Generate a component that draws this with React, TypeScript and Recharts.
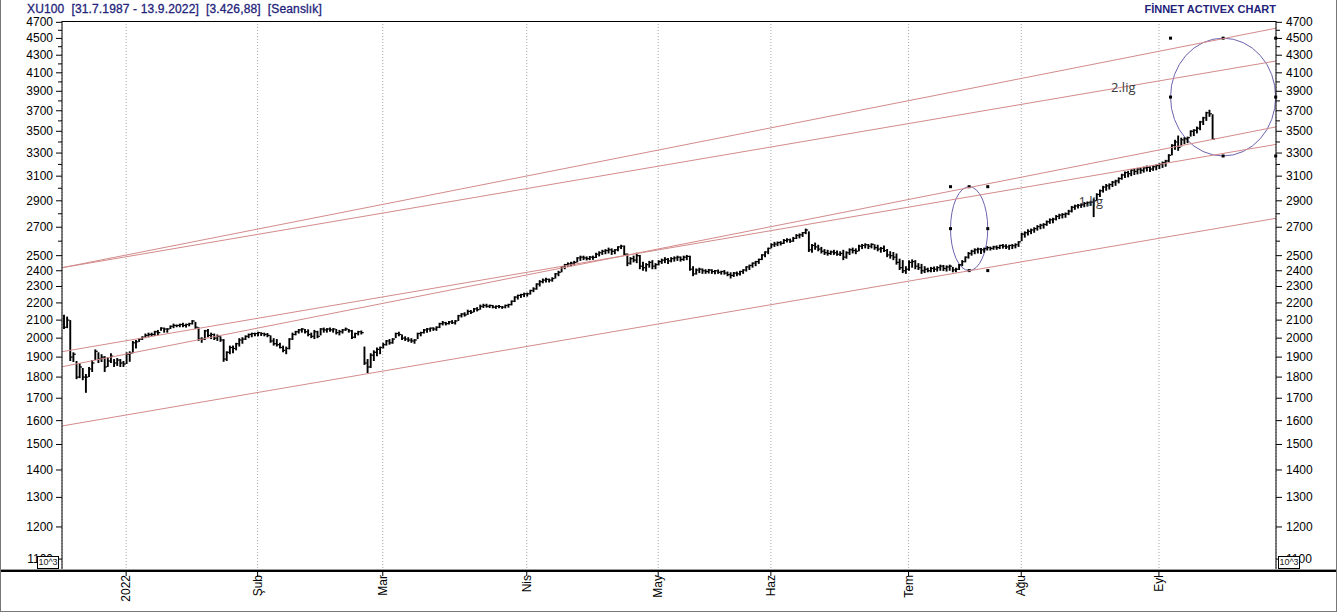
import React from "react";
import {
  ComposedChart,
  Bar,
  XAxis,
  YAxis,
  CartesianGrid,
  ReferenceLine,
  ReferenceArea,
  ReferenceDot,
} from "recharts";

// session bars as [high, low, close], two sessions per trading day
const dec21 = [
  [2130, 2050, 2060], [2120, 2055, 2100], [2100, 1880, 1900], [1925, 1875, 1915],
  [1880, 1790, 1800], [1870, 1795, 1850], [1845, 1785, 1800], [1815, 1725, 1800],
  [1850, 1800, 1840], [1885, 1825, 1870], [1940, 1885, 1930], [1925, 1870, 1890],
  [1915, 1875, 1900], [1905, 1825, 1850], [1900, 1850, 1880], [1920, 1870, 1905],
  [1890, 1850, 1870], [1895, 1855, 1885], [1890, 1850, 1870], [1880, 1850, 1865],
];
const jan22 = [
  [1925, 1865, 1915], [1930, 1876, 1920], [1985, 1920, 1975], [1990, 1945, 1980],
  [2000, 1980, 1995], [2010, 1990, 2005], [2025, 2000, 2015], [2030, 2005, 2020],
  [2030, 2010, 2020], [2040, 2012, 2035], [2045, 2015, 2030], [2060, 2040, 2055],
  [2058, 2030, 2050], [2055, 2030, 2050], [2070, 2050, 2065], [2080, 2055, 2070],
  [2075, 2060, 2070], [2080, 2060, 2075], [2085, 2060, 2070], [2080, 2058, 2075],
  [2085, 2065, 2080], [2100, 2075, 2095], [2090, 2050, 2060], [2060, 1985, 1995],
  [2005, 1975, 1995], [2045, 1990, 2040], [2050, 2005, 2015], [2030, 1995, 2020],
  [2025, 1990, 2000], [2020, 1985, 2010], [2010, 1980, 1990], [1995, 1876, 1890],
  [1930, 1880, 1925], [1960, 1915, 1950], [1960, 1920, 1945], [1975, 1935, 1970],
  [2000, 1955, 1990], [2005, 1970, 1995], [2015, 1990, 2010], [2025, 2000, 2020],
  [2030, 2005, 2025], [2030, 2010, 2025],
];
const feb22 = [
  [2035, 2010, 2030], [2032, 2012, 2025], [2030, 2010, 2020], [2028, 2005, 2015],
  [2015, 1975, 1985], [2000, 1960, 1970], [1995, 1955, 1965], [1975, 1945, 1950],
  [1960, 1925, 1935], [1955, 1915, 1945], [2000, 1940, 1995], [2030, 1990, 2020],
  [2040, 2015, 2035], [2050, 2025, 2045], [2055, 2030, 2050], [2050, 2025, 2035],
  [2048, 2010, 2020], [2030, 2000, 2010], [2045, 1995, 2035], [2040, 2000, 2010],
  [2055, 2015, 2050], [2058, 2030, 2045], [2055, 2030, 2050], [2058, 2035, 2045],
  [2055, 2030, 2050], [2050, 2020, 2030], [2045, 2015, 2035], [2050, 2025, 2045],
  [2058, 2040, 2050], [2050, 2030, 2040], [2045, 1995, 2005], [2030, 2000, 2025],
  [2040, 2015, 2035], [2042, 2020, 2030], [1955, 1860, 1870], [1890, 1820, 1850],
  [1920, 1845, 1910], [1935, 1880, 1925], [1950, 1905, 1940], [1955, 1915, 1950],
];
const mar22 = [
  [1975, 1945, 1965], [1990, 1960, 1985], [1995, 1965, 1975], [2000, 1970, 1995],
  [2030, 2000, 2025], [2035, 2010, 2020], [2020, 1990, 2000], [2010, 1985, 1995],
  [2005, 1980, 1990], [2000, 1975, 1985], [1995, 1970, 1990], [2030, 1995, 2025],
  [2035, 2010, 2030], [2050, 2025, 2045], [2055, 2030, 2050], [2058, 2035, 2055],
  [2060, 2040, 2050], [2065, 2040, 2060], [2085, 2055, 2080], [2095, 2070, 2085],
  [2090, 2070, 2080], [2095, 2075, 2090], [2100, 2078, 2085], [2100, 2075, 2095],
  [2130, 2095, 2125], [2140, 2115, 2135], [2145, 2120, 2130], [2160, 2130, 2150],
  [2158, 2135, 2145], [2170, 2145, 2165], [2175, 2150, 2160], [2190, 2160, 2180],
  [2195, 2170, 2185], [2195, 2172, 2180], [2190, 2170, 2185], [2188, 2168, 2175],
  [2185, 2165, 2180], [2188, 2168, 2178], [2182, 2165, 2175], [2190, 2168, 2185],
  [2195, 2172, 2190], [2215, 2185, 2210], [2240, 2205, 2235], [2250, 2220, 2245],
  [2255, 2230, 2250], [2262, 2235, 2255],
];
const apr22 = [
  [2262, 2238, 2255], [2280, 2250, 2275], [2295, 2265, 2285], [2320, 2280, 2315],
  [2340, 2300, 2330], [2350, 2320, 2340], [2355, 2325, 2345], [2350, 2325, 2340],
  [2358, 2330, 2350], [2385, 2350, 2380], [2400, 2365, 2390], [2430, 2390, 2425],
  [2445, 2410, 2440], [2455, 2425, 2445], [2460, 2430, 2450], [2465, 2435, 2455],
  [2490, 2455, 2485], [2500, 2465, 2490], [2500, 2470, 2485], [2495, 2468, 2480],
  [2498, 2470, 2490], [2500, 2472, 2488], [2520, 2485, 2510], [2530, 2495, 2520],
  [2540, 2505, 2530], [2545, 2510, 2535], [2555, 2515, 2540], [2550, 2505, 2530],
  [2545, 2510, 2540], [2565, 2530, 2560], [2575, 2545, 2565], [2570, 2500, 2510],
  [2515, 2430, 2450], [2490, 2440, 2480], [2500, 2455, 2470], [2520, 2450, 2500],
  [2505, 2410, 2430], [2460, 2400, 2420], [2450, 2395, 2440], [2465, 2420, 2455],
  [2470, 2410, 2430], [2450, 2410, 2440],
];
const may22 = [
  [2470, 2435, 2460], [2480, 2445, 2470], [2490, 2450, 2475], [2485, 2445, 2465],
  [2490, 2455, 2480], [2495, 2460, 2485], [2500, 2465, 2490], [2495, 2460, 2475],
  [2500, 2465, 2490], [2505, 2470, 2495], [2500, 2400, 2410], [2430, 2365, 2380],
  [2415, 2375, 2405], [2420, 2385, 2410], [2415, 2380, 2400], [2410, 2380, 2395],
  [2412, 2382, 2405], [2410, 2380, 2395], [2405, 2378, 2400], [2408, 2380, 2390],
  [2400, 2375, 2395], [2405, 2375, 2385], [2395, 2365, 2375], [2390, 2350, 2370],
  [2392, 2360, 2385], [2395, 2365, 2380], [2400, 2370, 2395], [2410, 2380, 2405],
  [2430, 2395, 2425], [2440, 2405, 2435], [2455, 2420, 2450], [2465, 2430, 2460],
  [2480, 2445, 2475], [2510, 2470, 2505], [2530, 2490, 2525], [2555, 2510, 2550],
];
const jun22 = [
  [2585, 2550, 2575], [2595, 2560, 2580], [2598, 2565, 2590], [2600, 2570, 2585],
  [2615, 2580, 2605], [2620, 2590, 2610], [2618, 2588, 2600], [2630, 2595, 2620],
  [2650, 2615, 2640], [2655, 2620, 2645], [2665, 2630, 2660], [2690, 2650, 2680],
  [2670, 2525, 2540], [2580, 2520, 2570], [2590, 2540, 2560], [2575, 2530, 2545],
  [2560, 2515, 2530], [2545, 2505, 2520], [2540, 2500, 2515], [2535, 2505, 2525],
  [2540, 2505, 2520], [2535, 2500, 2510], [2530, 2498, 2515], [2540, 2470, 2490],
  [2530, 2480, 2520], [2550, 2505, 2540], [2555, 2515, 2535], [2550, 2510, 2530],
  [2575, 2530, 2565], [2580, 2545, 2570], [2585, 2550, 2575], [2580, 2545, 2565],
  [2585, 2550, 2578], [2578, 2540, 2555], [2575, 2530, 2545], [2560, 2520, 2550],
  [2570, 2525, 2535], [2545, 2490, 2505], [2530, 2480, 2500], [2525, 2470, 2490],
  [2515, 2440, 2455], [2480, 2405, 2420], [2470, 2385, 2400], [2430, 2380, 2410],
];
const jul22 = [
  [2470, 2400, 2455], [2475, 2420, 2460], [2470, 2410, 2430], [2450, 2405, 2420],
  [2445, 2380, 2400], [2430, 2385, 2410], [2420, 2390, 2400], [2425, 2390, 2415],
  [2428, 2392, 2410], [2430, 2395, 2420], [2440, 2400, 2430], [2438, 2398, 2415],
  [2435, 2395, 2425], [2440, 2400, 2430], [2425, 2390, 2405], [2420, 2390, 2410],
  [2445, 2405, 2440], [2470, 2430, 2460], [2495, 2455, 2490], [2525, 2480, 2515],
  [2540, 2500, 2530], [2550, 2510, 2540], [2555, 2515, 2545], [2552, 2512, 2540],
  [2555, 2520, 2548], [2565, 2535, 2555], [2562, 2535, 2550], [2568, 2540, 2560],
  [2570, 2540, 2555], [2575, 2545, 2570], [2580, 2548, 2565], [2578, 2545, 2560],
  [2575, 2540, 2570], [2580, 2545, 2568], [2585, 2550, 2575], [2600, 2560, 2595],
];
const aug22 = [
  [2660, 2600, 2650], [2670, 2625, 2660], [2685, 2640, 2670], [2690, 2650, 2680],
  [2700, 2660, 2690], [2715, 2675, 2705], [2725, 2685, 2715], [2730, 2690, 2720],
  [2750, 2710, 2740], [2765, 2725, 2755], [2770, 2730, 2760], [2790, 2750, 2780],
  [2800, 2760, 2790], [2805, 2765, 2795], [2810, 2770, 2800], [2830, 2790, 2820],
  [2860, 2810, 2850], [2870, 2830, 2860], [2875, 2840, 2865], [2880, 2845, 2870],
  [2890, 2850, 2880], [2895, 2855, 2885], [2900, 2860, 2890], [2920, 2775, 2900],
  [2960, 2900, 2950], [2990, 2930, 2980], [3020, 2965, 3010], [3035, 2980, 3020],
  [3040, 2990, 3030], [3060, 3010, 3050], [3070, 3020, 3060], [3090, 3040, 3080],
  [3120, 3070, 3110], [3140, 3085, 3130], [3145, 3090, 3120], [3160, 3100, 3150],
  [3165, 3110, 3140], [3170, 3115, 3160], [3175, 3120, 3150], [3180, 3130, 3170],
  [3190, 3140, 3175], [3185, 3135, 3160], [3195, 3145, 3180], [3200, 3150, 3190],
];
const sep22 = [
  [3210, 3160, 3200], [3225, 3170, 3215], [3240, 3180, 3230], [3290, 3220, 3280],
  [3380, 3280, 3370], [3420, 3330, 3400], [3460, 3320, 3350], [3440, 3360, 3420],
  [3445, 3380, 3430], [3450, 3390, 3440], [3510, 3450, 3500], [3520, 3455, 3510],
  [3545, 3480, 3530], [3600, 3510, 3590], [3640, 3560, 3630], [3690, 3600, 3680],
  [3710, 3640, 3670], [3665, 3427, 3427],
];

const months = [dec21, jan22, feb22, mar22, apr22, may22, jun22, jul22, aug22, sep22];
const monthLabels = ["2022", "Şub", "Mar", "Nis", "May", "Haz", "Tem", "Ağu", "Eyl"];

const yTicks = [
  1100, 1200, 1300, 1400, 1500, 1600, 1700, 1800, 1900, 2000, 2100, 2200, 2300,
  2400, 2500, 2600, 2700, 2800, 2900, 3000, 3100, 3200, 3300, 3400, 3500, 3600,
  3700, 3800, 3900, 4000, 4100, 4200, 4300, 4400, 4500, 4600, 4700,
];
const yLabelled = [
  1100, 1200, 1300, 1400, 1500, 1600, 1700, 1800, 1900, 2000, 2100, 2200, 2300,
  2400, 2500, 2700, 2900, 3100, 3300, 3500, 3700, 3900, 4100, 4300, 4500, 4700,
];

// trend channel lines: value at left edge, value at right edge
const trendStart = [2420, 2420, 1928, 1851, 1577];
const trendEnd = [4626, 4233, 3378, 3542, 2766];

// drawn ellipses (session index range, value range)
const ellipses = [
  { x1: 283.4, x2: 295.3, lo: 2401, hi: 3013 },
  { x1: 353.7, x2: 387.3, lo: 3274, hi: 4503 },
];
const notes = [
  { i: 338.6, v: 3946, text: "2.lig" },
  { i: 328.2, v: 2899, text: "1.lig" },
];

const sessions = months.flat();
const data = sessions.map(([h, l, c], i) => ({ i, range: [l, h], high: h, low: l, close: c }));

const monthStarts: number[] = [];
let acc = 0;
months.forEach((m, k) => {
  if (k > 0) monthStarts.push(acc);
  acc += m.length;
});

const X_MIN = -0.5;
const X_MAX = 387.4;
const Y_MIN = 1071;
const Y_MAX = 4717;
const FONT = "'Liberation Sans', Arial, sans-serif";
const NAVY = "#23237a";

const SessionBar = (props: any) => {
  const { x, y, width, height, payload } = props;
  if (x == null || y == null || !payload) return null;
  const cx = x + width / 2;
  const top = Math.min(y, y + height);
  const bottom = Math.max(y, y + height);
  const span = Math.log(payload.high) - Math.log(payload.low);
  const t = span > 0 ? (Math.log(payload.high) - Math.log(payload.close)) / span : 0;
  const yc = top + (bottom - top) * t;
  return (
    <g>
      <line x1={cx} x2={cx} y1={top} y2={Math.max(bottom, top + 1.5)} stroke="#000" strokeWidth={1.9} />
      <line x1={cx} x2={cx + 2.4} y1={yc} y2={yc} stroke="#000" strokeWidth={1.2} />
    </g>
  );
};

const LeftTick = (props: any) => {
  const { x, y, payload } = props;
  const major = yLabelled.includes(payload.value);
  return (
    <g>
      <line x1={x - (major ? 6 : 4)} x2={x} y1={y} y2={y} stroke="#000" />
      {major && (
        <text x={x - 9} y={y} textAnchor="end" dominantBaseline="central" fontSize={12} fontFamily={FONT} fill="#000">
          {payload.value}
        </text>
      )}
    </g>
  );
};

const RightTick = (props: any) => {
  const { x, y, payload } = props;
  const major = yLabelled.includes(payload.value);
  return (
    <g>
      <line x1={x} x2={x + (major ? 6 : 4)} y1={y} y2={y} stroke="#000" />
      {major && (
        <text x={x + 10} y={y} textAnchor="start" dominantBaseline="central" fontSize={12} fontFamily={FONT} fill="#000">
          {payload.value}
        </text>
      )}
    </g>
  );
};

const MonthTick = (props: any) => {
  const { x, y, payload, index } = props;
  return (
    <g>
      <line x1={x} x2={x} y1={y + 3} y2={y + 7} stroke="#000" />
      <text
        x={x + 4}
        y={y + 6}
        transform={`rotate(-90, ${x + 4}, ${y + 6})`}
        textAnchor="end"
        fontSize={12}
        fontFamily={FONT}
        fill="#000"
      >
        {monthLabels[index] ?? ""}
      </text>
    </g>
  );
};

const EllipseShape = (props: any) => {
  const { x, y, width, height } = props;
  const cx = x + width / 2;
  const cy = y + height / 2;
  const handles = [
    [x, y], [cx, y], [x + width, y],
    [x, cy], [x + width, cy],
    [cx, y + height], [x + width, y + height],
  ];
  return (
    <g>
      <ellipse cx={cx} cy={cy} rx={width / 2} ry={height / 2} fill="none" stroke="#6b64ad" strokeWidth={1} />
      {handles.map(([hx, hy], k) => (
        <rect key={k} x={hx - 1.5} y={hy - 1.5} width={3} height={3} fill="#000" />
      ))}
    </g>
  );
};

export default function App() {
  return (
    <div style={{ position: "absolute", left: 0, top: 0, width: 1337, height: 612, background: "#fff", fontFamily: FONT }}>
      <ComposedChart
        width={1337}
        height={612}
        data={data}
        margin={{ top: 21, right: 0, bottom: 0, left: 0 }}
      >
        <CartesianGrid horizontal={false} vertical stroke="#a8a8a8" strokeDasharray="1 2" />
        <XAxis
          dataKey="i"
          type="number"
          domain={[X_MIN, X_MAX]}
          allowDataOverflow
          ticks={monthStarts}
          interval={0}
          height={43}
          axisLine={false}
          tickLine={false}
          tickSize={0}
          tickMargin={0}
          tick={<MonthTick />}
        />
        <YAxis
          yAxisId="l"
          orientation="left"
          type="number"
          scale="log"
          domain={[Y_MIN, Y_MAX]}
          allowDataOverflow
          ticks={yTicks}
          interval={0}
          width={62}
          axisLine={{ stroke: "#000" }}
          tickLine={false}
          tickSize={0}
          tickMargin={0}
          tick={<LeftTick />}
        />
        <YAxis
          yAxisId="r"
          orientation="right"
          type="number"
          scale="log"
          domain={[Y_MIN, Y_MAX]}
          allowDataOverflow
          ticks={yTicks}
          interval={0}
          width={61}
          axisLine={{ stroke: "#000" }}
          tickLine={false}
          tickSize={0}
          tickMargin={0}
          tick={<RightTick />}
        />
        {trendStart.map((v, k) => (
          <ReferenceLine
            key={k}
            yAxisId="l"
            segment={[
              { x: X_MIN, y: v },
              { x: X_MAX, y: trendEnd[k] },
            ]}
            stroke="#d38b8b"
            strokeWidth={1}
            ifOverflow="hidden"
          />
        ))}
        <Bar
          yAxisId="l"
          dataKey="range"
          barSize={2}
          shape={<SessionBar />}
          isAnimationActive={false}
        />
        {ellipses.map((e, k) => (
          <ReferenceArea
            key={k}
            yAxisId="l"
            x1={e.x1}
            x2={e.x2}
            y1={e.lo}
            y2={e.hi}
            ifOverflow="visible"
            shape={<EllipseShape />}
          />
        ))}
        {notes.map((n, k) => (
          <ReferenceDot
            key={k}
            yAxisId="l"
            x={n.i}
            y={n.v}
            r={0}
            ifOverflow="visible"
            shape={(p: any) => (
              <text
                x={p.cx}
                y={p.cy}
                textAnchor="middle"
                dominantBaseline="central"
                fontSize={13}
                fontFamily="'Open Sans', 'Noto Sans', sans-serif"
                fill="#3c3c3c"
              >
                {n.text}
              </text>
            )}
          />
        ))}
      </ComposedChart>

      {/* frame and header drawn over the chart */}
      <div style={{ position: "absolute", left: 62, top: 21, width: 1214, height: 0, borderTop: "1px solid #000" }} />
      <div style={{ position: "absolute", left: 0, top: 569, width: 1337, height: 1, background: "#9a9a9a" }} />
      <div style={{ position: "absolute", left: 0, top: 570, width: 1337, height: 2, background: "#000" }} />
      <div style={{ position: "absolute", left: 0, top: 0, width: 1, height: 612, background: "#777" }} />
      <div style={{ position: "absolute", left: 1336, top: 0, width: 1, height: 612, background: "#777" }} />
      <div style={{ position: "absolute", left: 0, top: 611, width: 1337, height: 1, background: "#777" }} />
      <div
        style={{
          position: "absolute",
          left: 27,
          top: 2,
          fontSize: 12,
          lineHeight: "14px",
          color: NAVY,
          whiteSpace: "pre",
          letterSpacing: 0.15,
          WebkitTextStroke: "0.3px " + NAVY,
        }}
      >
        {"XU100  [31.7.1987 - 13.9.2022]  [3.426,88]  [Seanslık]"}
      </div>
      <div
        style={{
          position: "absolute",
          right: 1337 - 1276,
          top: 2,
          fontSize: 11,
          lineHeight: "14px",
          fontWeight: "bold",
          color: NAVY,
          whiteSpace: "pre",
        }}
      >
        FİNNET ACTIVEX CHART
      </div>
      {[37, 1278].map((left) => (
        <div
          key={left}
          style={{
            position: "absolute",
            left,
            top: 556,
            width: 20,
            height: 11,
            border: "1px solid #000",
            background: "#fff",
            fontSize: 9,
            lineHeight: "11px",
            textAlign: "center",
            color: "#222",
          }}
        >
          10^3
        </div>
      ))}
    </div>
  );
}
